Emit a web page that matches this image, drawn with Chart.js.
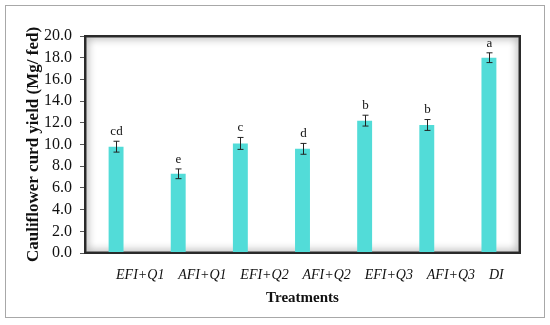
<!DOCTYPE html>
<html>
<head>
<meta charset="utf-8">
<script src="https://cdn.jsdelivr.net/npm/chart.js@4/dist/chart.umd.min.js"></script>
<style>
  html, body { margin: 0; padding: 0; background: #fff; }
  #wrap { width: 550px; height: 325px; }
</style>
</head>
<body>
<div id="wrap"><canvas id="yield"></canvas></div>
<script>
var treatments = ["EFI+Q1", "AFI+Q1", "EFI+Q2", "AFI+Q2", "EFI+Q3", "AFI+Q3", "DI"];
var yieldMean = [9.8, 7.3, 10.1, 9.6, 12.2, 11.8, 18.0];
var yieldErr = [0.5, 0.45, 0.55, 0.5, 0.5, 0.5, 0.45];
var letters = ["cd", "e", "c", "d", "b", "b", "a"];
var yTicks = [0, 2, 4, 6, 8, 10, 12, 14, 16, 18, 20];

// frames, error bars and the letters over each bar
var extras = {
  id: 'extras',
  beforeDraw: function(chart) {
    var ctx = chart.ctx;
    ctx.save();
    ctx.strokeStyle = '#a8a8a8';
    ctx.lineWidth = 1;
    ctx.strokeRect(5.5, 5.5, 539, 312);
    ctx.restore();
  },
  beforeDatasetsDraw: function(chart) {
    var a = chart.chartArea;
    var ctx = chart.ctx;
    ctx.save();
    ctx.beginPath();
    ctx.rect(a.left, a.top, a.right - a.left, a.bottom - a.top);
    ctx.clip();
    ctx.shadowColor = 'rgba(0,0,0,0.6)';
    ctx.shadowBlur = 8;
    ctx.strokeStyle = '#333';
    ctx.lineWidth = 3;
    ctx.strokeRect(a.left, a.top, a.right - a.left, a.bottom - a.top);
    ctx.restore();
  },
  afterDatasetsDraw: function(chart) {
    var ctx = chart.ctx;
    var y = chart.scales.y;
    var meta = chart.getDatasetMeta(0);
    ctx.save();
    ctx.strokeStyle = '#222';
    ctx.lineWidth = 1;
    ctx.fillStyle = '#111';
    ctx.font = '13px "Liberation Serif"';
    ctx.textAlign = 'center';
    ctx.textBaseline = 'bottom';
    meta.data.forEach(function(bar, i) {
      var x = Math.round(bar.x) + 0.5;
      var top = y.getPixelForValue(yieldMean[i] + yieldErr[i]);
      var bot = y.getPixelForValue(yieldMean[i] - yieldErr[i]);
      ctx.beginPath();
      ctx.moveTo(x, top); ctx.lineTo(x, bot);
      ctx.moveTo(x - 3, top); ctx.lineTo(x + 3, top);
      ctx.moveTo(x - 3, bot); ctx.lineTo(x + 3, bot);
      ctx.stroke();
      ctx.fillText(letters[i], x, top - 3);
    });
    ctx.restore();
  },
  afterDraw: function(chart) {
    var a = chart.chartArea;
    var ctx = chart.ctx;
    ctx.save();
    ctx.strokeStyle = '#2a2a2a';
    ctx.lineWidth = 2;
    ctx.strokeRect(a.left, a.top, a.right - a.left, a.bottom - a.top);
    ctx.restore();
  }
};

new Chart(document.getElementById('yield'), {
  type: 'bar',
  data: {
    labels: treatments,
    datasets: [{
      data: yieldMean,
      backgroundColor: '#52dcd8',
      borderWidth: 0,
      barPercentage: 0.8,
      categoryPercentage: 0.3
    }]
  },
  options: {
    responsive: true,
    maintainAspectRatio: false,
    animation: false,
    layout: { padding: { left: 19, top: 36, right: 30, bottom: 14 } },
    plugins: { legend: { display: false }, tooltip: { enabled: false } },
    scales: {
      x: {
        grid: { display: false, drawTicks: false },
        border: { display: false },
        afterFit: function(s) { s.height = 58; },
        ticks: {
          align: 'start',
          padding: 14,
          color: '#111',
          font: { family: '"Liberation Serif"', size: 14, style: 'italic' }
        },
        title: {
          display: true,
          text: 'Treatments',
          color: '#111',
          font: { family: '"Liberation Serif"', size: 15, weight: 'bold' }
        }
      },
      y: {
        min: 0,
        max: 20,
        afterFit: function(s) { s.width = 66; },
        afterBuildTicks: function(s) {
          s.ticks = yTicks.map(function(v) { return { value: v }; });
        },
        grid: { drawOnChartArea: false, tickLength: 5, color: '#555' },
        border: { display: false },
        ticks: {
          autoSkip: false,
          padding: 8,
          color: '#111',
          font: { family: '"Liberation Serif"', size: 16 },
          callback: function(v) { return Number(v).toFixed(1); }
        },
        title: {
          display: true,
          text: 'Cauliflower curd yield (Mg/ fed)',
          color: '#111',
          font: { family: '"Liberation Serif"', size: 17, weight: 'bold' }
        }
      }
    }
  },
  plugins: [extras]
});
</script>
</body>
</html>
